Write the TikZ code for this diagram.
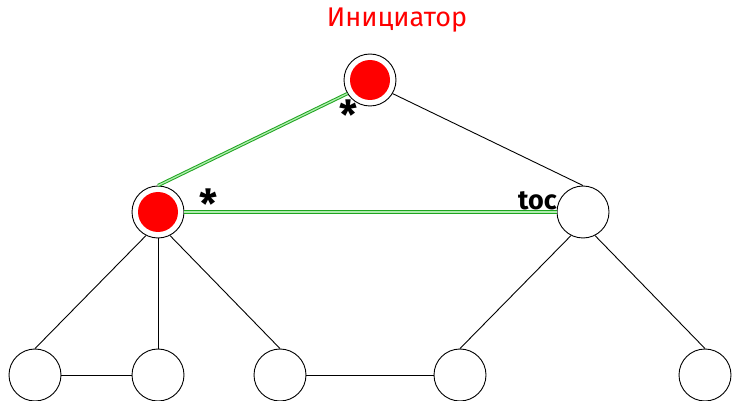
\documentclass[tikz,border=0pt]{standalone}
\usepackage{fontspec}
\setmainfont{Fira Sans}
\usetikzlibrary{positioning}
\tikzset{node distance=2cm}
\definecolor{msggreen}{RGB}{30,165,30}
\definecolor{msglight}{RGB}{175,235,175}

\begin{document}
\begin{tikzpicture}[x=1pt, y=-1pt, on grid,
proc/.style={circle, draw=black, line width=0.9pt, minimum size=52pt, inner sep=0pt},
active/.style={proc, path picture={\fill[red] (path picture bounding box.center) circle (20pt);}},
tree_edge/.style={draw=black, line width=0.9pt},
msg_edge/.style={draw=msggreen, double=msglight, double distance=1.3pt, line width=1pt},
mark_label/.style={font=\bfseries\fontsize{40}{40}\selectfont, inner sep=0pt}]
    \useasboundingbox (0,0) rectangle (732,401);

    \node[active] (init) at (370,80) {};
    \node[red, font=\fontsize{27}{30}\selectfont] (title) at (397,20) {Инициатор};

    \node[active, below left=132pt and 212pt of init] (left) {};
    \node[proc, below right=132pt and 213pt of init] (right) {};

    \node[proc, below left=163pt and 123pt of left] (b1) {};
    \node[proc, below=163pt of left] (b2) {};
    \node[proc, below right=163pt and 122pt of left] (b3) {};
    \node[proc, below left=163pt and 123pt of right] (b4) {};
    \node[proc, below right=163pt and 122pt of right] (b5) {};

    % tree
    \draw[tree_edge] (init.329) -- (right.north);
    \draw[tree_edge] (left.243) -- (b1.north);
    \draw[tree_edge] (left.south) -- (b2.north);
    \draw[tree_edge] (left.297) -- (b3.north);
    \draw[tree_edge] (right.243) -- (b4.north);
    \draw[tree_edge] (right.297) -- (b5.north);
    \draw[tree_edge] (b1) -- (b2);
    \draw[tree_edge] (b3) -- (b4);

    % messages
    \draw[msg_edge] (init.211) -- (left.north);
    \draw[msg_edge] (left.east) -- (right.west);

    \node[mark_label] (star_init) at (348,115) {*};
    \node[mark_label] (star_left) at (208,204) {*};
    \node[mark_label, anchor=base east, font=\bfseries\fontsize{27}{27}\selectfont] (toc) at (557,210) {toc};
\end{tikzpicture}
\end{document}
